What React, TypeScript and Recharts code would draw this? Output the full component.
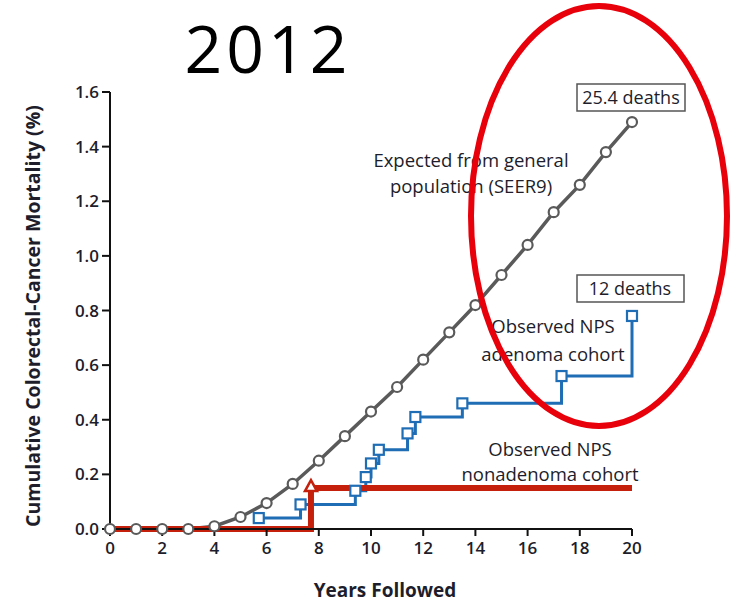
import { CartesianGrid, Line, LineChart, XAxis, YAxis } from "recharts";

// expected cumulative mortality (SEER9), one point a year
const SEER_YEARS = [0, 1, 2, 3, 4, 5, 6, 7, 8, 9, 10, 11, 12, 13, 14, 15, 16, 17, 18, 19, 20];
const SEER_VALUES = [0, 0, 0, 0, 0.01, 0.044, 0.095, 0.165, 0.25, 0.34, 0.43, 0.52, 0.62, 0.72, 0.82, 0.93, 1.04, 1.16, 1.26, 1.38, 1.49];

// observed adenoma cohort, one point per death
const ADENOMA_YEARS = [5.7, 7.3, 9.4, 9.8, 10.0, 10.3, 11.4, 11.7, 13.5, 17.3, 20];
const ADENOMA_VALUES = [0.04, 0.09, 0.14, 0.19, 0.24, 0.29, 0.35, 0.41, 0.46, 0.56, 0.78];

// observed nonadenoma cohort
const NONADENOMA_YEARS = [0, 7.7, 20];
const NONADENOMA_VALUES = [0, 0.15, 0.15];
const NONADENOMA_MARK = [false, true, false];

const X_TICKS = [0, 2, 4, 6, 8, 10, 12, 14, 16, 18, 20];
const Y_TICKS = [0, 0.2, 0.4, 0.6, 0.8, 1.0, 1.2, 1.4, 1.6];

const GRAY = "#5a5a5a";
const BLUE = "#1f6db4";
const RED = "#c4200c";
const INK = "#1d1d2b";
const FONT = "'Open Sans', sans-serif";

const seer = SEER_YEARS.map((x, i) => ({ x, y: SEER_VALUES[i] }));
const adenoma = ADENOMA_YEARS.map((x, i) => ({ x, y: ADENOMA_VALUES[i] }));
const nonadenoma = NONADENOMA_YEARS.map((x, i) => ({ x, y: NONADENOMA_VALUES[i], mark: NONADENOMA_MARK[i] }));

const TICK = { fontSize: 17, fill: INK, fontFamily: FONT, fontWeight: 600 };

function Circle(props: any) {
  const { cx, cy, index } = props;
  return <circle key={index} cx={cx} cy={cy} r={5} fill="#fff" stroke={GRAY} strokeWidth={2.2} />;
}

function Square(props: any) {
  const { cx, cy, index } = props;
  return <rect key={index} x={cx - 5} y={cy - 5} width={10} height={10} fill="#fff" stroke={BLUE} strokeWidth={2.2} />;
}

function Triangle(props: any) {
  const { cx, cy, index, payload } = props;
  if (!payload.mark) return <g key={index} />;
  return (
    <path key={index} d={`M${cx},${cy - 8} L${cx + 6},${cy + 3} L${cx - 6},${cy + 3} Z`} fill="#fff" stroke={RED} strokeWidth={2.5} />
  );
}

export default function App() {
  return (
    <div style={{ position: "absolute", left: 0, top: 0, width: 730, height: 603, background: "#fff" }}>
      <LineChart width={730} height={603} margin={{ top: 92, right: 98, bottom: 44, left: 60 }}>
        <CartesianGrid stroke="none" />
        <XAxis
          type="number"
          dataKey="x"
          domain={[0, 20]}
          ticks={X_TICKS}
          tick={TICK}
          tickSize={7}
          tickMargin={6}
          stroke="#111"
          strokeWidth={2}
          height={30}
          allowDuplicatedCategory={false}
        />
        <YAxis
          type="number"
          domain={[0, 1.6]}
          ticks={Y_TICKS}
          tick={TICK}
          tickSize={8}
          tickMargin={3}
          tickFormatter={(v: number) => v.toFixed(1)}
          stroke="#111"
          strokeWidth={2}
          width={50}
        />
        <Line data={seer} dataKey="y" type="linear" stroke={GRAY} strokeWidth={3.5} dot={<Circle />} isAnimationActive={false} />
        <Line data={adenoma} dataKey="y" type="stepAfter" stroke={BLUE} strokeWidth={3} dot={<Square />} isAnimationActive={false} />
        <Line data={nonadenoma} dataKey="y" type="stepAfter" stroke={RED} strokeWidth={6} dot={<Triangle />} isAnimationActive={false} />
      </LineChart>
      <svg width={730} height={603} style={{ position: "absolute", left: 0, top: 0, pointerEvents: "none" }}>
        <text x={268} y={73} textAnchor="middle" fontFamily={FONT} fontSize={66} letterSpacing={4} fill="#000">
          2012
        </text>
        <text
          transform="translate(40,316) rotate(-90)"
          textAnchor="middle"
          fontFamily={FONT}
          fontWeight={700}
          fontSize={19.5}
          fill={INK}
        >
          Cumulative Colorectal-Cancer Mortality (%)
        </text>
        <text x={385} y={597} textAnchor="middle" fontFamily={FONT} fontWeight={700} fontSize={19} fill={INK}>
          Years Followed
        </text>
        <g fontFamily={FONT} fontSize={18.5} fill={INK} textAnchor="middle">
          <text x={471} y={167}>Expected from general</text>
          <text x={471} y={193}>population (SEER9)</text>
          <text x={553} y={333}>Observed NPS</text>
          <text x={553} y={361}>adenoma cohort</text>
          <text x={550} y={456}>Observed NPS</text>
          <text x={550} y={481}>nonadenoma cohort</text>
        </g>
        <rect x={577} y={84} width={108} height={27} fill="#fff" stroke="#555" strokeWidth={1.5} />
        <text x={631} y={104} textAnchor="middle" fontFamily={FONT} fontSize={18} fill={INK}>
          25.4 deaths
        </text>
        <rect x={577} y={275} width={107} height={27} fill="#fff" stroke="#555" strokeWidth={1.5} />
        <text x={630} y={295} textAnchor="middle" fontFamily={FONT} fontSize={18} fill={INK}>
          12 deaths
        </text>
        <ellipse cx={599} cy={216} rx={128} ry={210} fill="none" stroke="#e8000b" strokeWidth={6} />
      </svg>
    </div>
  );
}
